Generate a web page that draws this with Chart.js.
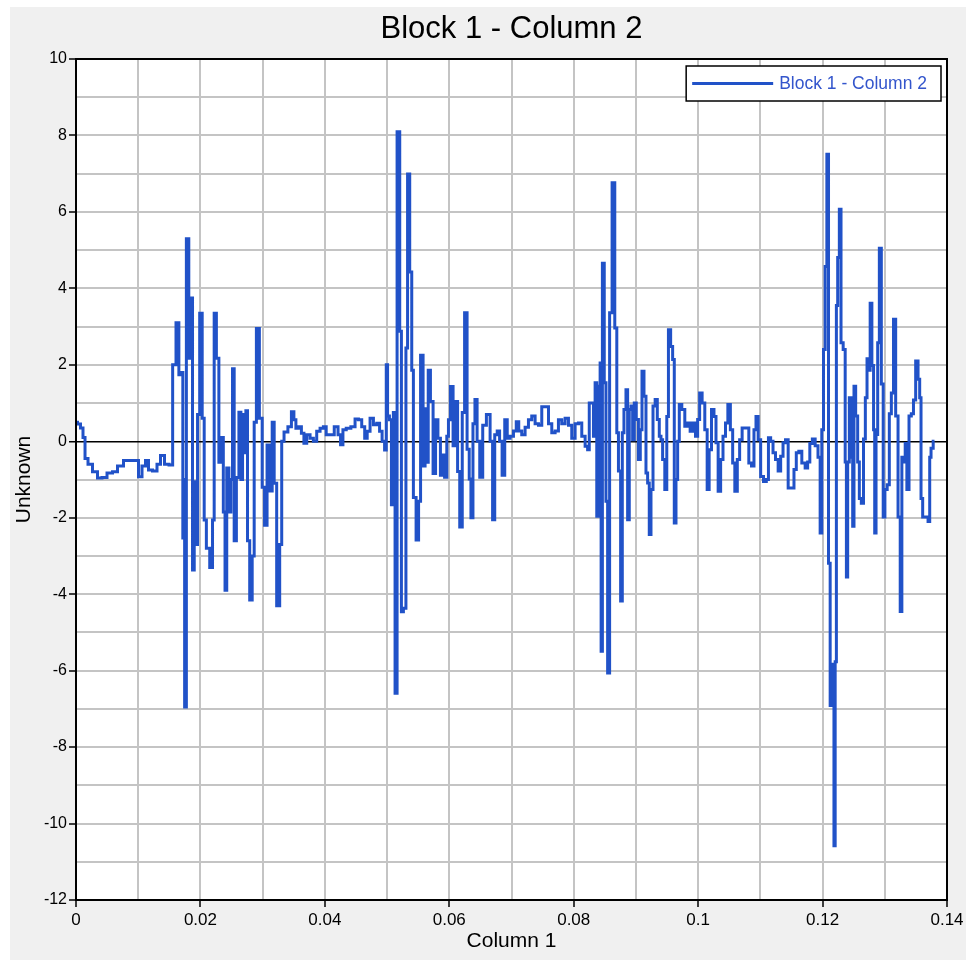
<!DOCTYPE html>
<html>
<head>
<meta charset="utf-8">
<title>Block 1 - Column 2</title>
<script src="https://cdn.jsdelivr.net/npm/chart.js"></script>
<style>
  html, body { margin: 0; padding: 0; background: #fff; }
  #wrap { width: 970px; height: 967px; }
</style>
</head>
<body>
<div id="wrap"><canvas id="myChart" width="970" height="967"></canvas></div>
<script>
// series (Column 1 vs Block 1 - Column 2)
const seriesName = 'Block 1 - Column 2';
const xValues = [
  0, 0.00048, 0.00096, 0.00129, 0.00161, 0.00225, 0.00305, 0.00386, 0.0045, 0.00547,
  0.00627, 0.00707, 0.0082, 0.00916, 0.00981, 0.01029, 0.01093, 0.01141, 0.0119, 0.0127,
  0.01334, 0.01383, 0.01463, 0.01527,
  // burst 1
  0.0158, 0.01635, 0.01672, 0.01709, 0.01725, 0.0174, 0.01752, 0.01796, 0.0183, 0.0186,
  0.01886, 0.01915, 0.01941, 0.01966, 0.0201, 0.02047, 0.02074, 0.02117, 0.02182, 0.02207,
  0.02235, 0.02278, 0.02315, 0.02352, 0.02384, 0.02407, 0.02439, 0.02476, 0.02503, 0.02529,
  0.02556, 0.026, 0.02637, 0.02664, 0.0269, 0.02717, 0.02744, 0.0277, 0.02814, 0.0285,
  0.02878, 0.02921, 0.02974, 0.03011, 0.0305, 0.03092, 0.03135, 0.03172, 0.03199, 0.03252,
  0.03296, 0.03317, 0.03371,
  // quiet
  0.03441, 0.03484, 0.03521, 0.03548, 0.03601, 0.03645, 0.03682, 0.03735, 0.03789, 0.03842,
  0.03896, 0.0395, 0.04003, 0.0404, 0.04111, 0.04191, 0.04233, 0.04272, 0.04309, 0.04378,
  0.04458, 0.04513, 0.04566, 0.04619, 0.04662, 0.04699, 0.04754, 0.04807, 0.0486, 0.04899,
  0.04941, 0.04979,
  // burst 2
  0.04995, 0.05021, 0.05055, 0.05085, 0.05117, 0.0514, 0.05182, 0.05225, 0.05236, 0.05289,
  0.05317, 0.05342, 0.05386, 0.05407, 0.05439, 0.05494, 0.05519, 0.05558, 0.056, 0.05622,
  0.05648, 0.05675, 0.05719, 0.0576, 0.05799, 0.05836, 0.05879, 0.05905, 0.05944, 0.05976,
  0.05997, 0.0604, 0.06082, 0.06121, 0.06146, 0.0619, 0.06227, 0.06265, 0.06307, 0.06334,
  0.06362, 0.06399, 0.06426, 0.06468, 0.06511, 0.06564,
  0.06629, 0.06683, 0.06709, 0.06752, 0.06789, 0.06828, 0.0687, 0.06913, 0.0695, 0.07005,
  0.07058, 0.07095, 0.07138, 0.07191, 0.07246, 0.07299, 0.07352, 0.07407, 0.0746, 0.07513,
  0.07568, 0.07621, 0.07674, 0.07728, 0.07781, 0.07834, 0.07889, 0.07942, 0.07995, 0.0805,
  // burst 3
  0.08103, 0.08156, 0.08211, 0.08236, 0.08264, 0.08307, 0.08328, 0.0836, 0.08381, 0.08413,
  0.08436, 0.08445, 0.08477, 0.08505, 0.08532, 0.08558, 0.08596, 0.08638, 0.08682, 0.08703,
  0.08735, 0.08773, 0.08789, 0.08826, 0.08854, 0.08879, 0.08907, 0.08934, 0.0896, 0.08987,
  0.09024, 0.09056, 0.09084, 0.09111, 0.09148, 0.09175, 0.09201, 0.09228, 0.09256, 0.09293,
  0.09325, 0.09362, 0.09389, 0.09416, 0.09442, 0.09486, 0.09506, 0.09539, 0.09577, 0.09603,
  0.0963, 0.09658, 0.09683, 0.09711, 0.09764, 0.09807,
  0.09844, 0.09899, 0.09936, 0.09979, 0.10005, 0.10043, 0.10085, 0.10129, 0.10161, 0.10193,
  0.10236, 0.10273, 0.10301, 0.10342, 0.10381, 0.10418, 0.10461, 0.10494, 0.10542, 0.10568,
  0.10611, 0.10648, 0.10686, 0.10728, 0.10793, 0.10836, 0.10879, 0.10916, 0.10944, 0.10986,
  0.11024, 0.11077, 0.11114, 0.11146, 0.11185, 0.11222, 0.11265, 0.11307, 0.11346, 0.11383,
  0.11426, 0.11468, 0.11522, 0.11559, 0.11596, 0.1164, 0.11693, 0.11747,
  // burst 4
  0.11773, 0.11817, 0.11854, 0.11908, 0.11945, 0.11977, 0.11998, 0.12031, 0.12053, 0.12085,
  0.12106, 0.12138, 0.12175, 0.12191, 0.12214, 0.1223, 0.12256, 0.12283, 0.1231, 0.12352,
  0.12375, 0.12391, 0.12416, 0.12444, 0.12471, 0.12497, 0.12513, 0.12551, 0.12577, 0.12605,
  0.12641, 0.12674, 0.12701, 0.12728, 0.12754, 0.12776, 0.12809, 0.1283, 0.12846, 0.12873,
  0.12899, 0.12926, 0.12963, 0.12986, 0.13018, 0.13059, 0.13087, 0.13124, 0.13156, 0.13194,
  0.13232, 0.13264, 0.13285, 0.13317, 0.13339, 0.13371, 0.13408, 0.13445, 0.13477, 0.13516,
  0.13553, 0.13569, 0.13596, 0.13622, 0.13677, 0.13714, 0.1373, 0.13757, 0.13799
];
const yValues = [
  0.5, 0.45, 0.35, 0.1, -0.45, -0.6, -0.8, -0.96, -0.95, -0.83,
  -0.8, -0.65, -0.5, -0.5, -0.5, -0.93, -0.65, -0.5, -0.75, -0.78,
  -0.6, -0.37, -0.6, -0.62,
  // burst 1
  2.0, 3.1, 1.74, 1.8, -2.53, -1.0, -6.95, 5.3, 2.17, 3.75,
  -3.37, -1.06, -2.7, 0.7, 3.35, 0.6, -2.06, -2.8, -3.3, -2.06,
  3.35, 2.17, -0.55, 0.1, -1.85, -3.9, -0.7, -1.85, -1.0, 1.9,
  -2.6, -0.95, 0.76, -1.0, 0.7, -0.3, 0.8, -2.6, -4.15, -3.0,
  0.5, 2.95, 0.6, -1.2, -2.2, -0.1, -1.3, 0.5, -1.1, -4.3,
  -2.7, 0.0, 0.24,
  // quiet
  0.38, 0.77, 0.56, 0.34, 0.38, 0.21, -0.05, 0.17, 0.08, 0.0,
  0.26, 0.34, 0.38, 0.17, 0.17, 0.38, 0.17, -0.09, 0.3, 0.34,
  0.38, 0.58, 0.56, 0.38, 0.08, 0.26, 0.6, 0.43, 0.47, 0.26,
  0.0, -0.23,
  // burst 2
  2.0, 0.66, 0.56, -1.66, 0.75, -6.59, 8.1, 2.88, -4.46, -4.37,
  2.44, 6.99, 4.43, 1.86, -1.47, -2.58, -1.57, 2.25, -0.65, 0.85,
  -0.55, 1.86, 1.04, -0.84, 0.56, 0.08, -0.89, -0.36, -0.94, 0.13,
  0.56, 1.43, -0.12, 1.04, -0.79, -2.24, 0.75, 3.36, -0.21, -0.99,
  -2.0, 0.46, 1.09, 0.0, -0.94, 0.42,
  0.7, 0.0, -2.05, 0.17, 0.27, 0.0, -0.89, 0.56, 0.08, 0.13,
  0.27, 0.51, 0.27, 0.17, 0.37, 0.56, 0.66, 0.46, 0.42, 0.9,
  0.9, 0.46, 0.22, 0.27, 0.56, 0.46, 0.6, 0.42, 0.08, 0.46,
  // burst 3
  0.48, 0.13, -0.13, -0.22, 1.0, 1.0, 0.13, 1.53, -1.96, 1.44,
  2.05, -5.49, 4.66, 1.53, -1.57, -6.06, 3.36, 6.76, 2.96, 0.22,
  -0.78, -4.18, 0.22, 0.83, 1.35, -2.05, 0.83, 0.92, 0.04, 1.0,
  0.57, -0.48, 0.3, 1.83, 1.18, -0.83, -1.09, -2.44, -1.26, 0.92,
  1.09, 0.57, 0.13, 0.04, -0.48, -1.26, 0.65, 2.92, 2.48, 2.14,
  -2.14, -1.0, 0.0, 0.96, 0.83, 0.39,
  0.48, 0.26, 0.48, 0.13, 0.57, 1.26, 1.0, 0.3, -1.26, -0.22,
  0.83, 0.65, -0.04, -1.31, -0.48, 0.13, 0.48, 0.96, 0.3, -0.57,
  -1.31, -0.48, 0.04, 0.35, 0.35, -0.57, -0.65, 0.3, 0.65, 0.04,
  -0.92, -1.05, -1.0, 0.09, 0.0, -0.3, -0.48, -0.78, -0.39, -0.04,
  0.04, -1.22, -1.22, -0.74, -0.3, -0.26, -0.57, -0.7,
  // burst 4
  -0.54, -0.06, 0.06, -0.12, -0.42, -2.4, 0.3, 2.4, 4.57, 7.51,
  -3.19, -6.91, -5.83, -10.58, -5.77, 3.55, 4.81, 6.07, 2.58, 2.4,
  -0.54, -3.55, -0.54, 1.14, -0.42, -2.22, 1.44, 0.66, -0.54, -1.5,
  -1.62, 0.06, 1.14, 2.16, 1.86, 3.61, 1.98, 0.3, -2.4, 0.18,
  2.58, 5.05, 1.5, -1.98, -1.26, -1.14, 0.72, 1.26, 3.19, 0.66,
  -1.98, -4.45, -0.42, -0.54, -0.06, -1.26, 0.66, 0.72, 1.08, 2.1,
  1.62, 1.14, -1.5, -1.98, -1.98, -2.1, -0.42, -0.18, 0.0
];
const xMajorTicks = [0, 0.02, 0.04, 0.06, 0.08, 0.1, 0.12, 0.14];
const yMajorTicks = [-12, -10, -8, -6, -4, -2, 0, 2, 4, 6, 8, 10];

const fontFam = '"Liberation Sans", Arial, Helvetica, sans-serif';
const lineBlue = '#2152c8';
Chart.defaults.font.family = fontFam;

function isMajor(v, list) {
  return list.some(t => Math.abs(t - v) < 1e-9);
}

// gray panel, white plot area, black frame and the boxed legend
const framePlugin = {
  id: 'framePlugin',
  beforeDraw(chart) {
    const { ctx, chartArea: a, width, height } = chart;
    ctx.save();
    ctx.fillStyle = '#ffffff';
    ctx.fillRect(0, 0, width, height);
    ctx.fillStyle = '#f0f0f0';
    ctx.fillRect(10, 7, width - 14, height - 14);
    ctx.fillStyle = '#ffffff';
    ctx.fillRect(a.left, a.top, a.right - a.left, a.bottom - a.top);
    ctx.restore();
  },
  afterDraw(chart) {
    const { ctx, chartArea: a } = chart;
    ctx.save();
    ctx.strokeStyle = '#000';
    ctx.lineWidth = 2;
    ctx.strokeRect(a.left, a.top, a.right - a.left, a.bottom - a.top);

    ctx.font = '17.5px ' + fontFam;
    const tw = ctx.measureText(seriesName).width;
    const boxRight = a.right - 6, boxTop = a.top + 7, boxH = 35;
    const textRight = boxRight - 14, textLeft = textRight - tw;
    const lineRight = textLeft - 6, lineLeft = lineRight - 81;
    const boxLeft = lineLeft - 6;
    ctx.fillStyle = '#fff';
    ctx.fillRect(boxLeft, boxTop, boxRight - boxLeft, boxH);
    ctx.lineWidth = 1.5;
    ctx.strokeRect(boxLeft, boxTop, boxRight - boxLeft, boxH);
    const midY = boxTop + boxH / 2;
    ctx.strokeStyle = lineBlue;
    ctx.lineWidth = 3;
    ctx.beginPath();
    ctx.moveTo(lineLeft, midY);
    ctx.lineTo(lineRight, midY);
    ctx.stroke();
    ctx.fillStyle = '#3355cc';
    ctx.textBaseline = 'middle';
    ctx.fillText(seriesName, textLeft, midY + 1);
    ctx.restore();
  }
};

const ctx = document.getElementById('myChart');
new Chart(ctx, {
  type: 'line',
  data: {
    datasets: [{
      label: seriesName,
      data: xValues.map((x, i) => ({ x: x, y: yValues[i] })),
      borderColor: lineBlue,
      borderWidth: 3,
      pointRadius: 0,
      stepped: 'middle',
      fill: false
    }]
  },
  options: {
    responsive: false,
    animation: false,
    events: [],
    layout: { padding: { left: 0, right: 23, top: 0, bottom: 0 } },
    plugins: {
      legend: { display: false },
      tooltip: { enabled: false },
      title: {
        display: true,
        text: 'Block 1 - Column 2',
        fullSize: false,
        color: '#000',
        font: { size: 31, weight: 'normal' },
        padding: { top: 10.4, bottom: 11.4 }
      }
    },
    scales: {
      x: {
        type: 'linear',
        min: 0,
        max: 0.14,
        afterFit: (scale) => { scale.height = 67; },
        ticks: {
          stepSize: 0.01,
          autoSkip: false,
          maxRotation: 0,
          padding: 3,
          color: '#000',
          font: { size: 17 },
          callback: (v) => isMajor(v, xMajorTicks) ? String(Number(v.toFixed(2))) : ''
        },
        grid: {
          color: '#c4c4c4',
          lineWidth: 2,
          tickLength: 7,
          tickWidth: 1.5,
          tickColor: (c) => (c.tick && isMajor(c.tick.value, xMajorTicks)) ? '#000' : 'rgba(0,0,0,0)'
        },
        border: { display: false },
        title: {
          display: true,
          text: 'Column 1',
          color: '#000',
          font: { size: 21 },
          padding: { top: 0, bottom: 13.4 }
        }
      },
      y: {
        min: -12,
        max: 10,
        afterFit: (scale) => { scale.width = 76; },
        ticks: {
          stepSize: 1,
          autoSkip: false,
          padding: 2,
          color: '#000',
          font: { size: 16 },
          callback: (v) => isMajor(v, yMajorTicks) ? String(v) : ''
        },
        grid: {
          color: (c) => (c.tick && c.tick.value === 0) ? '#000' : '#c4c4c4',
          lineWidth: (c) => (c.tick && c.tick.value === 0) ? 1.5 : 2,
          tickLength: 7,
          tickWidth: 1.5,
          tickColor: (c) => (c.tick && isMajor(c.tick.value, yMajorTicks)) ? '#000' : 'rgba(0,0,0,0)'
        },
        border: { display: false },
        title: {
          display: true,
          text: 'Unknown',
          color: '#000',
          font: { size: 21 },
          padding: { top: 11.4, bottom: 0 }
        }
      }
    }
  },
  plugins: [framePlugin]
});
</script>
</body>
</html>
